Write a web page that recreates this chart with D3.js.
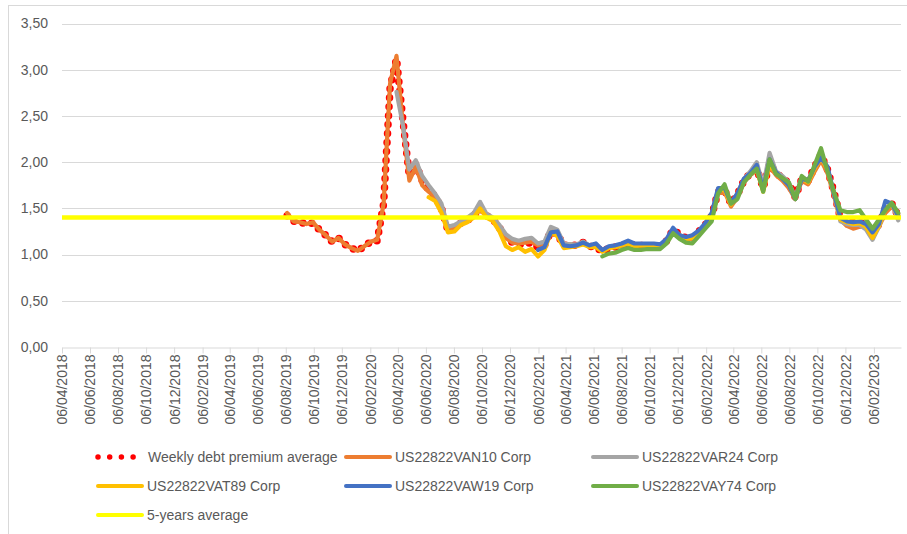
<!DOCTYPE html>
<html>
<head>
<meta charset="utf-8">
<script src="https://cdn.jsdelivr.net/npm/d3@7"></script>
<style>
  body { margin: 0; background: #fff; }
  svg text { font-family: "Liberation Sans", Arial, sans-serif; fill: #595959; }
</style>
</head>
<body>
<svg id="chart" width="907" height="534"></svg>
<script>
// biweekly observations, first one on 09/08/2019
const firstObs = new Date(2019, 7, 9);
const stepDays = 14;

const avgValues = [1.42,1.36,1.35,1.33,1.34,1.27,1.21,1.14,1.18,1.11,1.07,1.04,1.09,1.14,1.15,1.55,2.80,3.12,2.45,1.85,
  1.98,1.80,1.70,1.63,1.50,1.26,1.29,1.34,1.37,1.42,1.50,1.42,1.38,1.29,1.18,1.13,1.11,1.12,1.13,1.08,
  1.10,1.25,1.22,1.10,1.10,1.10,1.13,1.09,1.08,1.03,1.07,1.08,1.10,1.12,1.10,1.10,1.09,1.10,1.09,1.15,
  1.27,1.22,1.18,1.18,1.25,1.32,1.42,1.68,1.70,1.55,1.65,1.80,1.88,1.93,1.72,1.98,1.88,1.83,1.77,1.62,
  1.82,1.80,1.95,2.08,1.92,1.68,1.40,1.36,1.35,1.35,1.32,1.22,1.33,1.50,1.55,1.42];

const van10Values = [1.45,1.36,1.35,1.33,1.35,1.27,1.21,1.14,1.18,1.11,1.07,1.04,1.09,1.14,1.16,1.55,2.85,3.15,2.40,1.80,
  1.95,1.75,1.68,1.62,1.50,1.26,1.29,1.34,1.37,1.42,1.48,1.42,1.38,1.29,1.18,1.13,1.12,1.13,1.14,1.10,
  1.12,1.26,1.24,1.11,1.11,1.10,1.12,1.09,1.09,1.04,1.08,1.08,1.09,1.12,1.10,1.10,1.10,1.10,1.09,1.14,
  1.26,1.20,1.16,1.17,1.24,1.31,1.40,1.66,1.68,1.52,1.62,1.78,1.86,1.91,1.70,1.95,1.86,1.80,1.72,1.60,
  1.80,1.76,1.90,2.02,1.88,1.64,1.38,1.31,1.28,1.30,1.31,1.20,1.30,1.45,1.52,1.44];
const van10Start = 0;

const var24Values = [2.76,2.40,1.92,2.02,1.85,1.75,1.66,1.55,1.30,1.32,1.36,1.40,1.45,1.57,1.44,1.40,1.32,1.22,1.17,1.15,
  1.17,1.18,1.12,1.14,1.30,1.27,1.12,1.11,1.11,1.14,1.10,1.09,1.05,1.08,1.09,1.11,1.13,1.11,1.11,1.10,
  1.11,1.10,1.15,1.27,1.21,1.18,1.19,1.25,1.32,1.42,1.70,1.72,1.56,1.66,1.82,1.90,2.00,1.74,2.10,1.90,
  1.85,1.78,1.62,1.84,1.80,1.94,2.05,1.93,1.66,1.36,1.33,1.32,1.32,1.27,1.16,1.30,1.50,1.55,1.37];
const var24Start = 17;

const vat89Values = [1.62,1.58,1.45,1.24,1.25,1.32,1.35,1.40,1.50,1.40,1.36,1.25,1.09,1.05,1.08,1.03,1.06,0.98,1.05,1.24,
  1.20,1.07,1.08,1.09,1.11,1.08,1.08,1.03,1.07,1.08,1.10,1.12,1.09,1.10,1.09,1.10,1.08,1.15,1.27,1.21,
  1.17,1.18,1.25,1.32,1.42,1.70,1.70,1.54,1.64,1.80,1.87,1.93,1.68,1.98,1.88,1.82,1.75,1.60,1.82,1.78,
  1.93,2.05,1.92,1.66,1.38,1.35,1.33,1.34,1.30,1.18,1.31,1.50,1.54,1.42];
const vat89Start = 22;

const vaw19Values = [1.05,1.08,1.24,1.25,1.10,1.09,1.10,1.13,1.10,1.12,1.05,1.09,1.10,1.12,1.15,1.12,1.12,1.12,1.12,1.11,
  1.17,1.29,1.21,1.19,1.21,1.26,1.34,1.45,1.72,1.72,1.56,1.66,1.82,1.88,1.97,1.70,2.03,1.89,1.82,1.75,
  1.60,1.82,1.80,1.95,2.05,1.95,1.66,1.40,1.36,1.35,1.36,1.33,1.24,1.33,1.58,1.55,1.42];
const vaw19Start = 39;

const vay74Values = [0.98,1.01,1.02,1.05,1.07,1.05,1.05,1.06,1.06,1.06,1.12,1.23,1.17,1.13,1.12,1.20,1.28,1.36,1.66,1.76,
  1.55,1.60,1.78,1.86,1.93,1.68,2.03,1.87,1.83,1.78,1.60,1.85,1.79,1.97,2.15,1.90,1.68,1.48,1.46,1.46,
  1.48,1.38,1.28,1.38,1.48,1.56,1.45];
const vay74Start = 49;

const fiveYearAverage = 1.40;

const yTicks = [0, 0.5, 1, 1.5, 2, 2.5, 3, 3.5];
const xTickDates = d3.range(0, 30).map(k => new Date(2018, 3 + 2 * k, 6));

const seriesNames = ["Weekly debt premium average", "US22822VAN10 Corp", "US22822VAR24 Corp",
  "US22822VAT89 Corp", "US22822VAW19 Corp", "US22822VAY74 Corp", "5-years average"];
const seriesColors = ["#ff0000", "#ed7d31", "#a5a5a5", "#ffc000", "#4472c4", "#70ad47", "#ffff00"];

const svg = d3.select("#chart");
const W = 907, H = 534;

// chart area border
svg.append("rect").attr("x", 8.5).attr("y", 5.5).attr("width", W + 5).attr("height", H + 5)
  .attr("fill", "none").attr("stroke", "#d9d9d9");

const x = d3.scaleTime().domain([new Date(2018, 3, 6), new Date(2023, 3, 6)]).range([62, 901]);
const y = d3.scaleLinear().domain([0, 3.5]).range([347, 23.5]);

const fmtY = v => d3.format(".2f")(v).replace(".", ",");
const fmtX = d3.timeFormat("%d/%m/%Y");

// grid
svg.append("g").selectAll("line").data(yTicks.filter(d => d > 0)).join("line")
  .attr("x1", 62).attr("x2", 901)
  .attr("y1", d => Math.round(y(d)) + 0.5).attr("y2", d => Math.round(y(d)) + 0.5)
  .attr("stroke", "#d9d9d9").attr("stroke-width", 1);

// y axis labels
svg.append("g").selectAll("text").data(yTicks).join("text")
  .attr("x", 48).attr("y", d => y(d)).attr("dy", "0.35em")
  .attr("text-anchor", "end").style("font-size", "14px")
  .text(fmtY);

// x axis
const xAxis = svg.append("g").attr("transform", "translate(0," + (Math.round(y(0)) + 0.5) + ")")
  .call(d3.axisBottom(x).tickValues(xTickDates).tickFormat(fmtX).tickSize(6).tickSizeOuter(0));
xAxis.select(".domain").attr("stroke", "#d9d9d9");
xAxis.selectAll(".tick line").attr("stroke", "#d9d9d9");
xAxis.selectAll(".tick text")
  .attr("transform", "rotate(-90)")
  .attr("x", -7).attr("y", 0).attr("dy", "0.35em")
  .attr("text-anchor", "end")
  .style("font-size", "14px").style("font-family", "Liberation Sans, Arial, sans-serif")
  .attr("fill", "#595959");

const obsDate = i => d3.timeDay.offset(firstObs, stepDays * i);
const toPoints = (vals, start) => vals.map((v, k) => ({ date: obsDate(start + k), value: v }));

const line = d3.line().x(d => x(d.date)).y(d => y(d.value));

const plotted = [
  { pts: toPoints(avgValues, 0), color: seriesColors[0], dotted: true },
  { pts: toPoints(van10Values, van10Start), color: seriesColors[1] },
  { pts: toPoints(var24Values, var24Start), color: seriesColors[2] },
  { pts: toPoints(vat89Values, vat89Start), color: seriesColors[3] },
  { pts: toPoints(vaw19Values, vaw19Start), color: seriesColors[4] },
  { pts: toPoints(vay74Values, vay74Start), color: seriesColors[5] }
];

svg.append("g").selectAll("path").data(plotted).join("path")
  .attr("d", d => line(d.pts))
  .attr("fill", "none")
  .attr("stroke", d => d.color)
  .attr("stroke-width", d => d.dotted ? 7.5 : 4.2)
  .attr("stroke-linecap", "round")
  .attr("stroke-linejoin", "round")
  .attr("stroke-dasharray", d => d.dotted ? "0 9" : null);

// 5-year average
svg.append("line")
  .attr("x1", 62).attr("x2", 901)
  .attr("y1", y(fiveYearAverage)).attr("y2", y(fiveYearAverage))
  .attr("stroke", seriesColors[6]).attr("stroke-width", 4.5);

// legend
const legendPos = [[98, 457], [346, 457], [593, 457], [98, 486], [346, 486], [593, 486], [98, 515]];
const lg = svg.append("g").selectAll("g").data(seriesNames).join("g")
  .attr("transform", (d, i) => "translate(" + legendPos[i][0] + "," + legendPos[i][1] + ")");
lg.append("line")
  .attr("x1", 0).attr("x2", (d, i) => i === 0 ? 36 : 44)
  .attr("y1", 0).attr("y2", 0)
  .attr("stroke", (d, i) => seriesColors[i])
  .attr("stroke-width", (d, i) => i === 0 ? 5.5 : 4)
  .attr("stroke-linecap", "round")
  .attr("stroke-dasharray", (d, i) => i === 0 ? "0 11.7" : null);
lg.append("text")
  .attr("x", (d, i) => i === 0 ? 50 : 49).attr("y", 0).attr("dy", "0.35em")
  .style("font-size", "14px")
  .text(d => d);
</script>
</body>
</html>
